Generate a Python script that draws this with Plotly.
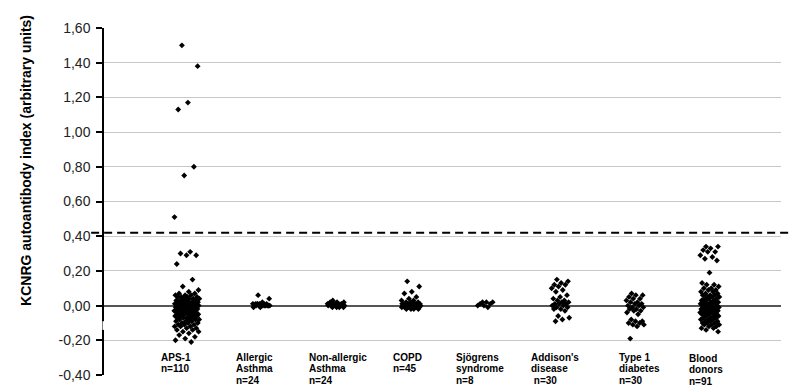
import plotly.graph_objects as go

categories = ["APS-1", "Allergic Asthma", "Non-allergic Asthma", "COPD",
              "Sjögrens syndrome", "Addison's disease", "Type 1 diabetes", "Blood donors"]
label_lines = [["APS-1", "n=110"],
               ["Allergic", "Asthma", "n=24"],
               ["Non-allergic", "Asthma", "n=24"],
               ["COPD", "n=45"],
               ["Sjögrens", "syndrome", "n=8"],
               ["Addison's", "disease", "\u00a0n=30"],
               ["Type 1", "diabetes", "n=30"],
               ["Blood", "donors", "n=91"]]

aps1 = [1.50, 1.38, 1.17, 1.13, 0.80, 0.75, 0.51, 0.31, 0.30, 0.29, 0.29, 0.24,
        0.15, 0.11, 0.09, 0.08,
        0.07, 0.07, 0.06, 0.06, 0.06, 0.05, 0.05, 0.05, 0.05, 0.04,
        0.04, 0.04, 0.04, 0.03, 0.03, 0.03, 0.03, 0.02, 0.02, 0.02,
        0.02, 0.02, 0.01, 0.01, 0.01, 0.01, 0.01, 0.00, 0.00, 0.00,
        0.00, 0.00, 0.00, -0.01, -0.01, -0.01, -0.01, -0.01, -0.02, -0.02,
        -0.02, -0.02, -0.02, -0.03, -0.03, -0.03, -0.03, -0.03, -0.04, -0.04,
        -0.04, -0.04, -0.04, -0.05, -0.05, -0.05, -0.05, -0.05, -0.06, -0.06,
        -0.06, -0.06, -0.07, -0.07, -0.07, -0.07, -0.08, -0.08, -0.08, -0.08,
        -0.09, -0.09, -0.09, -0.10, -0.10, -0.10, -0.11, -0.11, -0.11, -0.12,
        -0.12, -0.12, -0.13, -0.13, -0.14, -0.14, -0.15, -0.15, -0.16, -0.17,
        -0.18, -0.19, -0.20, -0.21]
allergic_asthma = [0.06, 0.04, 0.02, 0.01, 0.01, 0.01, 0.01, 0.01, 0.01, 0.00, 0.00, 0.00,
                   0.00, 0.00, 0.00, 0.00, 0.00, 0.00, -0.01, -0.01, 0.00, 0.01, 0.00, 0.01]
nonallergic_asthma = [0.03, 0.02, 0.02, 0.02, 0.01, 0.01, 0.01, 0.01, 0.01, 0.01, 0.01, 0.01,
                      0.00, 0.00, 0.00, 0.00, 0.00, 0.00, 0.00, 0.00, -0.01, -0.01, -0.01, -0.01]
copd = [0.14, 0.11, 0.08, 0.07, 0.05, 0.04, 0.03, 0.03, 0.02, 0.02, 0.02,
        0.01, 0.01, 0.01, 0.01, 0.01, 0.01, 0.01, 0.01, 0.01, 0.01,
        0.00, 0.00, 0.00, 0.00, 0.00, 0.00, 0.00, 0.00, 0.00, 0.00, 0.00, 0.00,
        -0.01, -0.01, -0.01, -0.01, -0.01, -0.01, -0.01, -0.01,
        -0.02, -0.02, -0.02, -0.02]
sjogrens = [0.02, 0.02, 0.02, 0.01, 0.01, 0.00, 0.00, -0.01]
addisons = [0.15, 0.14, 0.13, 0.12, 0.12, 0.11, 0.10, 0.09, 0.08, 0.06,
            0.05, 0.04, 0.03, 0.03, 0.02, 0.02, 0.01, 0.01, 0.01, 0.00,
            0.00, -0.01, -0.01, -0.02, -0.02, -0.03, -0.06, -0.07, -0.08, -0.09]
type1_diabetes = [0.07, 0.06, 0.06, 0.05, 0.04, 0.04, 0.03, 0.02, 0.02, 0.01,
                  0.01, 0.00, 0.00, -0.01, -0.01, -0.02, -0.02, -0.03, -0.03, -0.04,
                  -0.05, -0.08, -0.09, -0.09, -0.10, -0.10, -0.11, -0.11, -0.12, -0.19]
blood_donors = [0.34, 0.34, 0.33, 0.32, 0.31, 0.31, 0.29, 0.28, 0.27, 0.26, 0.19,
                0.13, 0.12, 0.12, 0.11, 0.10, 0.10, 0.09, 0.09, 0.08, 0.08,
                0.07, 0.07, 0.06, 0.06, 0.06, 0.05, 0.05, 0.05, 0.04, 0.04,
                0.04, 0.03, 0.03, 0.03, 0.02, 0.02, 0.02, 0.02, 0.01, 0.01,
                0.01, 0.01, 0.00, 0.00, 0.00, 0.00, -0.01, -0.01, -0.01, -0.01,
                -0.02, -0.02, -0.02, -0.02, -0.03, -0.03, -0.03, -0.03, -0.04, -0.04,
                -0.04, -0.04, -0.05, -0.05, -0.05, -0.05, -0.06, -0.06, -0.06, -0.07,
                -0.07, -0.07, -0.08, -0.08, -0.08, -0.09, -0.09, -0.09, -0.10, -0.10,
                -0.10, -0.11, -0.11, -0.11, -0.12, -0.12, -0.13, -0.13, -0.14, -0.15]
groups = [aps1, allergic_asthma, nonallergic_asthma, copd, sjogrens, addisons, type1_diabetes, blood_donors]

cutoff = 0.42
ytick_vals = [-0.4, -0.2, 0.0, 0.2, 0.4, 0.6, 0.8, 1.0, 1.2, 1.4, 1.6]
ytick_text = ["-0,40", "-0,20", "0,00", "0,20", "0,40", "0,60", "0,80", "1,00", "1,20", "1,40", "1,60"]

# layout (style) parameters
half_width = [0.17, 0.12, 0.12, 0.13, 0.11, 0.12, 0.12, 0.13]
label_xshift = [-27, -27, -28, -19, -31, -30, -17, -22]
FONT = "Liberation Sans, Arial, sans-serif"

fig = go.Figure()
for gi, vals in enumerate(groups):
    xs = []
    for i, _ in enumerate(vals):
        frac = (i * 0.6180339887 + 0.3) % 1.0
        xs.append(gi + (frac - 0.5) * 2 * half_width[gi])
    fig.add_trace(go.Scatter(x=xs, y=vals, mode="markers",
                             marker=dict(symbol="diamond", size=4.5, color="black"),
                             showlegend=False, hoverinfo="y"))

annotations = []
for gi, lines in enumerate(label_lines):
    extra = -1 if gi == 7 else 0
    for li, txt in enumerate(lines):
        annotations.append(dict(x=gi, y=-0.4, xref="x", yref="y", text=txt,
                                showarrow=False, xanchor="left", yanchor="middle",
                                xshift=label_xshift[gi], yshift=18 - 11.5 * li + extra,
                                borderpad=0,
                                font=dict(family=FONT, size=10, color="black", weight="bold")))
annotations.append(dict(x=0, y=0.617, xref="paper", yref="paper",
                        text="KCNRG autoantibody index (arbitrary units)",
                        textangle=-90, showarrow=False, xanchor="center", yanchor="middle",
                        xshift=-78,
                        font=dict(family=FONT, size=14, color="black", weight="bold")))

shapes = [
    dict(type="line", xref="paper", yref="y", x0=-0.019, x1=1.04, y0=cutoff, y1=cutoff,
         line=dict(color="black", width=2, dash="8px,5px"), layer="above"),
    dict(type="line", xref="paper", yref="y", x0=0, x1=0, y0=-0.09, y1=-0.14,
         line=dict(color="white", width=3), layer="above"),
]

fig.update_layout(
    width=797, height=387,
    margin=dict(l=96, r=24, t=18, b=19),
    paper_bgcolor="white", plot_bgcolor="white",
    xaxis=dict(range=[-1.111, 7.952], showgrid=False, zeroline=False,
               showticklabels=False, showline=False, ticks=""),
    yaxis=dict(range=[-0.4, 1.6], tickvals=ytick_vals, ticktext=ytick_text,
               showgrid=True, gridcolor="#c8c8c8", gridwidth=1,
               zeroline=True, zerolinecolor="#555555", zerolinewidth=2,
               showline=True, linecolor="black", linewidth=1.5,
               ticks="outside", ticklen=6, tickcolor="black", tickwidth=1.5,
               ticklabelstandoff=3,
               tickfont=dict(family=FONT, size=14, color="#222222")),
    annotations=annotations, shapes=shapes,
    font=dict(family=FONT),
)

fig.write_html("out.html")
